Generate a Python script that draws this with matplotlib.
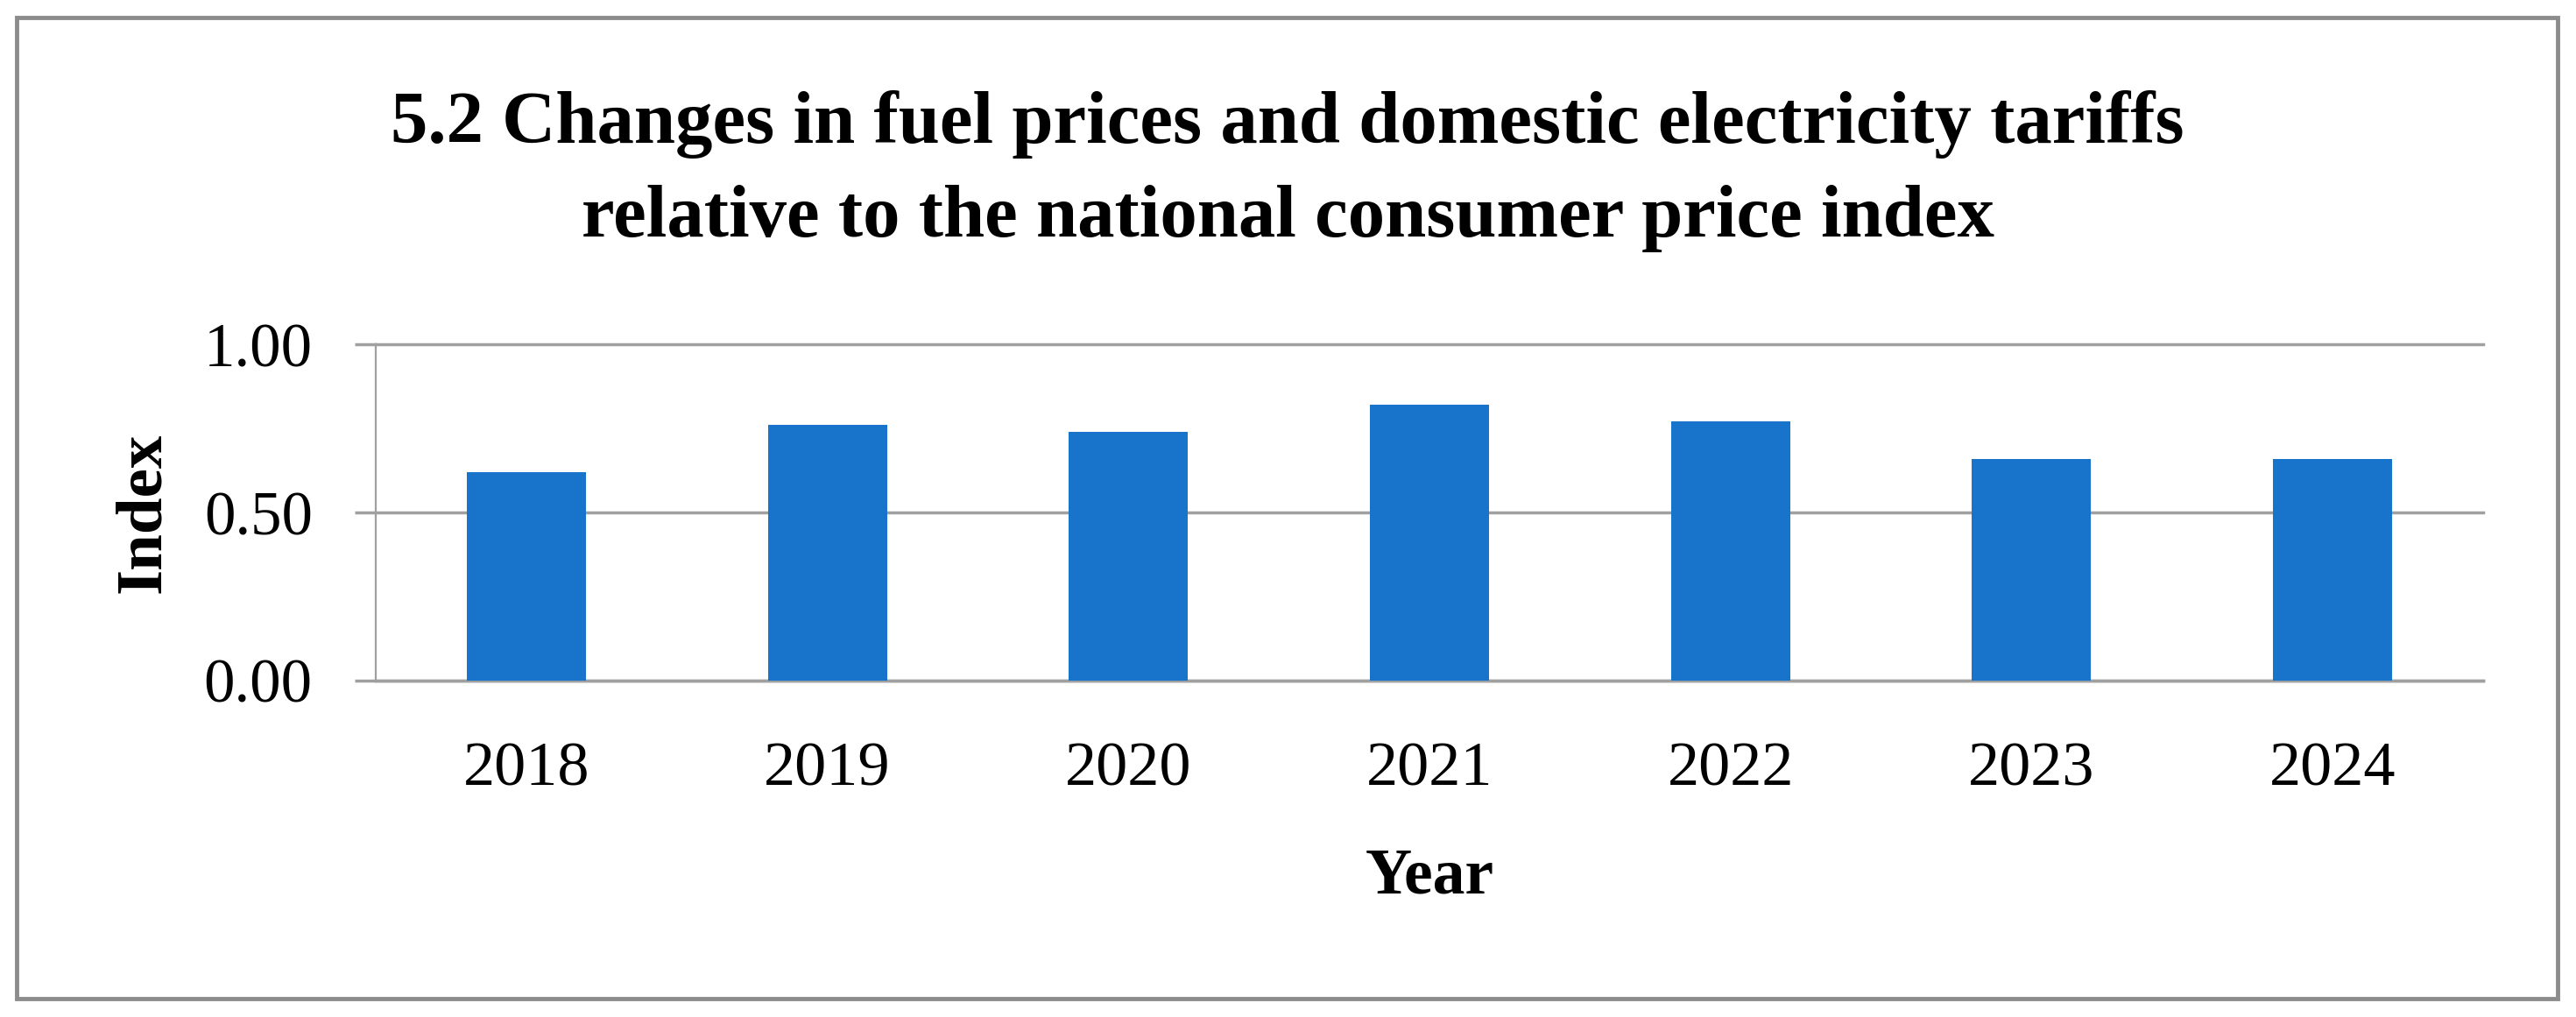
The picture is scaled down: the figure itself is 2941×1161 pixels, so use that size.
import matplotlib
matplotlib.use("Agg")
import matplotlib.pyplot as plt
from matplotlib.patches import Rectangle

years = ["2018", "2019", "2020", "2021", "2022", "2023", "2024"]
index_values = [0.62, 0.76, 0.74, 0.82, 0.77, 0.66, 0.66]
y_ticks = [0.0, 0.5, 1.0]
y_tick_labels = ["0.00", "0.50", "1.00"]
title_lines = ["5.2 Changes in fuel prices and domestic electricity tariffs",
               "relative to the national consumer price index"]

W, H = 2941, 1161
DPI = 100
fig = plt.figure(figsize=(W / DPI, H / DPI), dpi=DPI)
fig.patch.set_facecolor("white")

serif = ["Liberation Serif", "DejaVu Serif"]
GRID = "#a0a0a0"

# outer border
fig.patches.append(Rectangle((19 / W, 1 - 1140 / H), (2920 - 19) / W, (1140 - 20) / H,
                             transform=fig.transFigure, fill=False,
                             edgecolor="#8c8c8c", linewidth=3.5))

ax = fig.add_axes([429 / W, 1 - 777 / H, (2835 - 429) / W, (777 - 393) / H])
x = list(range(len(years)))
ax.bar(x, index_values, width=0.396, color="#1873CA", zorder=3)
ax.set_xlim(-0.5, len(years) - 0.5)
ax.set_ylim(0, 1.0)
ax.set_yticks(y_ticks)
ax.set_yticklabels(y_tick_labels, fontfamily=serif, fontsize=51)
ax.set_xticks(x)
ax.set_xticklabels(years, fontfamily=serif, fontsize=52)
ax.tick_params(axis="y", length=17, width=2.5, color=GRID, pad=35)
ax.tick_params(axis="x", length=0, pad=50)
ax.grid(axis="y", color=GRID, linewidth=2.5, zorder=0)
for t in ax.yaxis.get_gridlines():
    t.set_clip_on(False)
for s in ["top", "right"]:
    ax.spines[s].set_visible(False)
ax.spines["left"].set_color(GRID)
ax.spines["left"].set_linewidth(1.6)
ax.spines["bottom"].set_color(GRID)
ax.spines["bottom"].set_linewidth(2.5)

ax.set_xlabel("Year", fontfamily=serif, fontsize=53, fontweight="bold", labelpad=40)
ax.set_ylabel("Index", fontfamily=serif, fontsize=54, fontweight="bold", labelpad=25)

fig.text(1470 / W, 1 - 163 / H, title_lines[0], ha="center", va="baseline",
         fontfamily=serif, fontsize=61, fontweight="bold")
fig.text(1470 / W, 1 - 270 / H, title_lines[1], ha="center", va="baseline",
         fontfamily=serif, fontsize=61, fontweight="bold")

fig.savefig("out.png", dpi=DPI, facecolor="white")
